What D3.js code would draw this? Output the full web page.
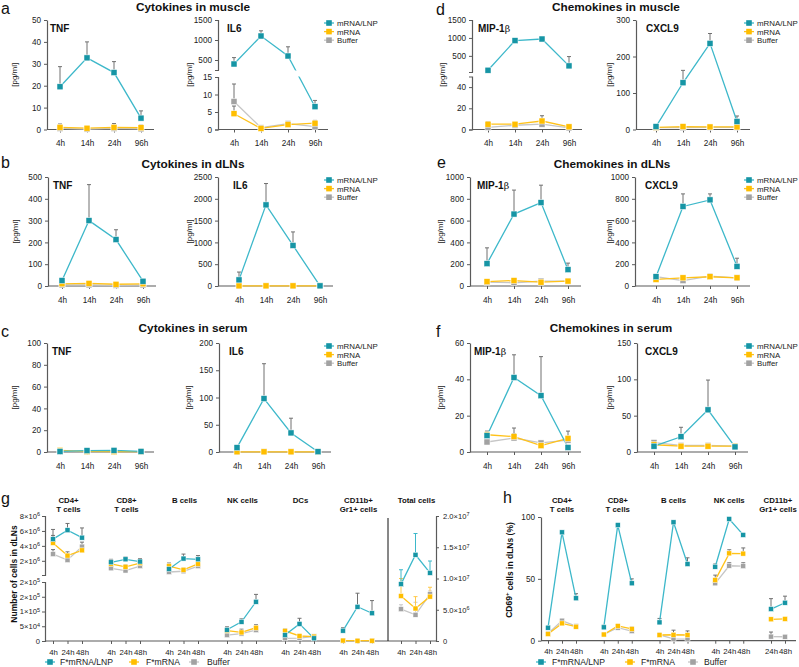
<!DOCTYPE html>
<html><head><meta charset="utf-8">
<script src="https://cdn.jsdelivr.net/npm/d3@7"></script>
<style>body{margin:0;background:#fff}svg{font-family:"Liberation Sans",Arial,sans-serif}</style>
</head><body><svg id="c" width="799" height="667"></svg>
<script>
// ---------------- DATA ----------------
const times = ["4h","14h","24h","96h"];
const seriesNames = ["mRNA/LNP","mRNA","Buffer"];

// a: cytokines in muscle
const aTnfLnp=[19.5,32.7,26.0,5.2], aTnfLnpErr=[28.7,40.0,31.0,8.5];
const aTnfMrna=[1.0,0.6,1.0,0.8], aTnfMrnaErr=[2.5,1.0,2.7,2.0];
const aTnfBuf=[0.5,0.2,0.5,0.3], aTnfBufErr=[1.5,0.5,1.0,1.0];
const aIl6Lnp=[400,1100,600,6.5], aIl6LnpErr=[560,1230,830,8.3];
const aIl6Mrna=[4.5,0.3,1.4,1.8], aIl6MrnaErr=[6.7,0.5,1.6,2.6];
const aIl6Buf=[8.0,0.5,1.7,0.8], aIl6BufErr=[13.0,0.8,2.0,1.3];
// d: chemokines in muscle
const dMipLnp=[100,925,970,220], dMipLnpErr=[110,940,985,480];
const dMipMrna=[5,5,8,2.5], dMipMrnaErr=[7.5,5.5,13,3];
const dMipBuf=[2,4,5,1.5], dMipBufErr=[3,4.5,6,2];
const dCxLnp=[8,128,236,22], dCxLnpErr=[10,162,263,37];
const dCxMrna=[6,8,7,7], dCxMrnaErr=[7,9,8,8];
const dCxBuf=[5,5,6,6], dCxBufErr=[6,6,7,7];
// b: cytokines in dLNs
const bTnfLnp=[25,300,213,22], bTnfLnpErr=[30,465,258,27];
const bTnfMrna=[10,12,8,10], bTnfMrnaErr=[12,15,10,12];
const bTnfBuf=[5,5,3,5], bTnfBufErr=[6,6,4,6];
const bIl6Lnp=[140,1860,930,3], bIl6LnpErr=[320,2350,1240,8];
const bIl6Mrna=[3,3,3,3], bIl6MrnaErr=[4,4,4,4];
const bIl6Buf=[2,2,2,2], bIl6BufErr=[3,3,3,3];
// e: chemokines in dLNs
const eMipLnp=[205,660,765,150], eMipLnpErr=[350,880,925,210];
const eMipMrna=[40,50,35,45], eMipMrnaErr=[45,55,40,50];
const eMipBuf=[35,30,45,45], eMipBufErr=[40,35,50,50];
const eCxLnp=[85,730,790,180], eCxLnpErr=[95,845,845,255];
const eCxMrna=[60,75,85,75], eCxMrnaErr=[70,90,95,85];
const eCxBuf=[85,50,90,75], eCxBufErr=[95,95,100,85];
// c: cytokines in serum
const cTnfLnp=[0.5,1.3,1.5,0.5], cTnfLnpErr=[0.8,1.8,2.0,0.8];
const cTnfMrna=[1.5,0.5,0.3,0.3], cTnfMrnaErr=[2.0,0.8,0.5,0.5];
const cTnfBuf=[0.5,0.3,0.3,0.3], cTnfBufErr=[0.8,0.5,0.5,0.5];
const cIl6Lnp=[8,98,35,0.5], cIl6LnpErr=[12,162,62,1];
const cIl6Mrna=[0.3,0.3,0.3,0.3], cIl6MrnaErr=[0.5,0.5,0.5,0.5];
const cIl6Buf=[0.3,0.3,0.3,0.3], cIl6BufErr=[0.5,0.5,0.5,0.5];
// f: chemokines in serum
const fMipLnp=[9,41,31,2.5], fMipLnpErr=[11,53.5,52.5,3];
const fMipMrna=[9.5,8.5,3.5,7.5], fMipMrnaErr=[11.5,10,4,11.5];
const fMipBuf=[5.5,7.7,5,6.5], fMipBufErr=[6.5,13.2,5.5,8];
const fCxLnp=[8,21,58,7], fCxLnpErr=[9,34,99,11];
const fCxMrna=[10,8,8,8], fCxMrnaErr=[12,10,10,10];
const fCxBuf=[13,9,9,8], fCxBufErr=[15,11,11,10];

// g: number of cells in dLNs
const gGroups=["CD4+|T cells","CD8+|T cells","B cells","NK cells","DCs","CD11b+|Gr1+ cells","Total cells"];
const gTimes=["4h","24h","48h"];
const gSeriesNames=["F*mRNA/LNP","F*mRNA","Buffer"];
const gLnp=[[4.9e6,6.1e6,5.1e6],[1.8e6,2.2e6,1.9e6],[0.9e6,2.3e6,2.2e6],[3.8e4,6.5e4,1.33e5],[2.0e4,5.8e4,0.9e4],[3.5e4,1.16e5,9.4e4],[9.1e6,13.8e6,10.9e6]];
const gLnpErr=[[6.2e6,7.0e6,6.4e6],[2.2e6,2.5e6,2.3e6],[1.2e6,2.9e6,2.7e6],[4.8e4,7.5e4,1.58e5],[2.8e4,7.7e4,1.2e4],[4.5e4,1.62e5,1.37e5],[11.4e6,17.2e6,12.8e6]];
const gMrna=[[4.4e6,2.7e6,3.4e6],[1.6e6,1.2e6,1.7e6],[1.3e6,0.8e6,1.6e6],[3.5e4,2.9e4,4.5e4],[3.4e4,1.7e4,1.5e4],[1.5e3,1e3,1e3],[7.2e6,5.2e6,7.1e6]];
const gMrnaErr=[[5.4e6,3.2e6,3.6e6],[2.0e6,1.5e6,1.9e6],[1.7e6,1.0e6,1.8e6],[4.2e4,4.0e4,5.5e4],[4.1e4,2.0e4,1.8e4],[2e3,1.5e3,1.5e3],[10.0e6,7.1e6,8.6e6]];
const gBuf=[[2.9e6,2.1e6,3.9e6],[1.0e6,0.7e6,1.3e6],[0.5e6,0.6e6,1.3e6],[2.0e4,2.5e4,3.7e4],[0.9e4,1.0e4,1.6e4],[1e3,1e3,1e3],[5.1e6,4.2e6,7.5e6]];
const gBufErr=[[3.5e6,2.5e6,4.5e6],[1.3e6,1.0e6,1.6e6],[0.8e6,1.0e6,1.5e6],[2.6e4,3.0e4,4.2e4],[1.2e4,1.3e4,2.0e4],[1.5e3,1.5e3,1.5e3],[5.8e6,6.2e6,8.0e6]];
const gUpperTicks=[2e6,4e6,6e6,8e6], gUpperLabels=["2×10^6","4×10^6","6×10^6","8×10^6"];
const gLowerTicks=[0,5e4,1e5,1.5e5,2e5], gLowerLabels=["0","5×10^4","1×10^5","2×10^5","2×10^5"];
const gRightTicks=[0,5e6,1e7,1.5e7,2e7], gRightLabels=["0","5.0×10^6","1.0×10^7","1.5×10^7","2.0×10^7"];

// h: CD69+ cells in dLNs (%)
const hGroups=["CD4+|T cells","CD8+|T cells","B cells","NK cells","CD11b+|Gr1+ cells"];
const hTimes=[["4h","24h","48h"],["4h","24h","48h"],["4h","24h","48h"],["4h","24h","48h"],["24h","48h"]];
const hLnp=[[10.5,87.6,34.3],[10.8,93.5,46.4],[14.8,95.7,62],[59.8,98.4,85.5],[25.6,30.7]];
const hLnpErr=[[12,88.5,38],[12.5,94,50],[18,96.5,67],[62,99,86.5],[34,36]];
const hMrna=[[5.4,14,11.3],[5,11.9,9.5],[4.6,4.8,4.6],[49,70.6,70.4],[17.3,17.6]];
const hMrnaErr=[[6.5,15,12],[6,13,11],[5.5,8.5,7.9],[53,73.5,75],[18,18.5]];
const hBuf=[[5.8,16.2,11.8],[5,10.5,7.8],[4.8,1.5,1.2],[46.4,60.6,60.3],[3.3,3.2]];
const hBufErr=[[6.5,17,12.5],[6,11.5,8.5],[5.5,2,1.8],[48,63,63],[7,4]];
const hTicks=[0,50,100];

// ---------------- STYLE ----------------
const svg=d3.select("#c");
const COL=[{m:"#1695a5",l:"#3db8ca",e:"#3db8ca"},{m:"#ffbe00",l:"#ffc21a",e:"#ffc94a"},{m:"#a2a2a2",l:"#c6c6c6",e:"#c8c8c8"}];
const ERR="#707070", AX="#5a5a5a", TXT="#222";

function styleAxis(a,fs){
  a.selectAll(".domain").attr("stroke",AX).attr("stroke-width",1.2);
  a.selectAll(".tick line").attr("stroke",AX).attr("stroke-width",1);
  a.selectAll("text").attr("fill",TXT).attr("font-size",fs||8.2).attr("font-family","Liberation Sans, Arial, sans-serif");
}
function sci(sel,label){
  sel.text(null);
  const p=label.split("^");
  sel.append("tspan").text(p[0]);
  if(p[1]) sel.append("tspan").attr("dy","-0.45em").attr("font-size","0.72em").text(p[1]);
}
function drawSeries(g,pts,ci,size,errColor){
  const c=COL[ci];
  pts.forEach(p=>{
    if(p.e==null||p.e>=p.y) return;
    g.append("line").attr("x1",p.x).attr("x2",p.x).attr("y1",p.y).attr("y2",p.e).attr("stroke",errColor||ERR).attr("stroke-width",1);
    g.append("line").attr("x1",p.x-2).attr("x2",p.x+2).attr("y1",p.e).attr("y2",p.e).attr("stroke",errColor||ERR).attr("stroke-width",1);
  });
  g.append("path").datum(pts).attr("d",d3.line().x(d=>d.x).y(d=>d.y)).attr("fill","none").attr("stroke",c.l).attr("stroke-width",1.3);
}
function drawMarkers(g,pts,ci,size){
  g.selectAll(null).data(pts).join("rect").attr("x",d=>d.x-size/2).attr("y",d=>d.y-size/2)
   .attr("width",size).attr("height",size).attr("fill",COL[ci].m).attr("stroke","#fff").attr("stroke-width",0.5);
}
function legendItem(x,y,ci,label,fs,off){
  svg.append("line").attr("x1",x-5).attr("x2",x+5).attr("y1",y).attr("y2",y).attr("stroke",COL[ci].l).attr("stroke-width",1.3);
  svg.append("rect").attr("x",x-2.8).attr("y",y-2.8).attr("width",5.6).attr("height",5.6).attr("fill",COL[ci].m);
  svg.append("text").attr("x",x+(off||9)).attr("y",y+3).attr("font-size",fs||9).attr("fill",TXT).text(label);
}

// ---------------- a-f line charts ----------------
const STEP=27;
function chart(o){
  const g=svg.append("g");
  const x=d3.scalePoint().domain(times).range([o.first,o.first+3*STEP]);
  let yf, axes=[];
  if(o.broken){
    const b=o.broken;
    const yt=d3.scaleLinear().domain(b.topDomain).range([b.topEnd,o.top]);
    const yb=d3.scaleLinear().domain(b.botDomain).range([o.bot,b.botStart]);
    yf=v=>v>=b.split?yt(v):yb(v);
    axes=[[yt,b.topTicks],[yb,b.botTicks]];
  } else {
    const y=d3.scaleLinear().domain(o.domain).range([o.bot,o.top]);
    yf=y; axes=[[y,o.ticks]];
  }
  axes.forEach(([s,t])=>{
    const a=g.append("g").attr("transform",`translate(${o.ax},0)`)
      .call(d3.axisLeft(s).tickValues(t).tickSize(3).tickSizeOuter(o.broken?3:0).tickPadding(3).tickFormat(d3.format("d")));
    styleAxis(a);
  });
  const endX=o.first+3*STEP+13;
  const xa=g.append("g").attr("transform",`translate(0,${o.bot})`).call(d3.axisBottom(x).tickSize(3).tickPadding(8));
  xa.select(".domain").remove();
  styleAxis(xa);
  g.append("line").attr("x1",o.ax).attr("x2",endX).attr("y1",o.bot).attr("y2",o.bot).attr("stroke",AX).attr("stroke-width",1.2);
  // labels
  const lab=g.append("text").attr("x",o.labX).attr("y",o.top+12).attr("font-size",10).attr("font-weight","bold").attr("fill","#111");
  const lp=o.label.split("β");
  lab.append("tspan").text(lp[0]);
  if(lp.length>1) lab.append("tspan").attr("font-weight","normal").attr("font-family","DejaVu Serif, serif").attr("font-size",9.5).text("β");
  g.append("text").attr("transform",`translate(${o.ylabX},${(o.top+o.bot)/2}) rotate(-90)`).attr("text-anchor","middle")
    .attr("font-size",8).attr("fill",TXT).text("[pg/ml]");
  // series
  const sets=[[o.buf,o.bufE,2],[o.mrna,o.mrnaE,1],[o.lnp,o.lnpE,0]];
  const allPts=sets.map(([v,e,ci])=>({ci,pts:times.map((t,i)=>({x:x(t),y:yf(v[i]),e:yf(e[i])}))}));
  allPts.forEach(s=>drawSeries(g,s.pts,s.ci,6));
  if(o.broken){
    g.append("rect").attr("x",o.ax+1).attr("y",o.broken.topEnd+0.5).attr("width",endX-o.ax).attr("height",o.broken.botStart-o.broken.topEnd-1).attr("fill","#fff");
  }
  allPts.forEach(s=>drawMarkers(g,s.pts,s.ci,6));
  if(o.legendX){
    seriesNames.forEach((n,i)=>legendItem(o.legendX,o.top+3+i*8.6,i,n,7.9,8));
  }
}
const R=[{top:20,bot:129.5},{top:177,bot:286},{top:343,bot:452}];
function lin(n,step){return d3.range(0,n+step/2,step);}

chart({...R[0],ax:47,first:60,domain:[0,50],ticks:lin(50,10),label:"TNF",labX:50,ylabX:17,
  lnp:aTnfLnp,lnpE:aTnfLnpErr,mrna:aTnfMrna,mrnaE:aTnfMrnaErr,buf:aTnfBuf,bufE:aTnfBufErr});
chart({...R[0],ax:218,first:234,broken:{topDomain:[250,1500],topEnd:70,botDomain:[0,15],botStart:77,split:100,topTicks:[500,1000,1500],botTicks:[0,5,10,15]},
  label:"IL6",labX:227,ylabX:192,legendX:329,
  lnp:aIl6Lnp,lnpE:aIl6LnpErr,mrna:aIl6Mrna,mrnaE:aIl6MrnaErr,buf:aIl6Buf,bufE:aIl6BufErr});
chart({...R[0],ax:472,first:488,broken:{topDomain:[50,1500],topEnd:72,botDomain:[0,50],botStart:76.5,split:60,topTicks:[500,1000,1500],botTicks:[0,20,40]},
  label:"MIP-1β",labX:478,ylabX:445,
  lnp:dMipLnp,lnpE:dMipLnpErr,mrna:dMipMrna,mrnaE:dMipMrnaErr,buf:dMipBuf,bufE:dMipBufErr});
chart({...R[0],ax:636,first:656,domain:[0,300],ticks:lin(300,100),label:"CXCL9",labX:646,ylabX:612,legendX:749,
  lnp:dCxLnp,lnpE:dCxLnpErr,mrna:dCxMrna,mrnaE:dCxMrnaErr,buf:dCxBuf,bufE:dCxBufErr});

chart({...R[1],ax:48,first:62,domain:[0,500],ticks:lin(500,100),label:"TNF",labX:53,ylabX:18,
  lnp:bTnfLnp,lnpE:bTnfLnpErr,mrna:bTnfMrna,mrnaE:bTnfMrnaErr,buf:bTnfBuf,bufE:bTnfBufErr});
chart({...R[1],ax:218,first:239,domain:[0,2500],ticks:lin(2500,500),label:"IL6",labX:233,ylabX:192,legendX:329,
  lnp:bIl6Lnp,lnpE:bIl6LnpErr,mrna:bIl6Mrna,mrnaE:bIl6MrnaErr,buf:bIl6Buf,bufE:bIl6BufErr});
chart({...R[1],ax:470,first:487,domain:[0,1000],ticks:lin(1000,200),label:"MIP-1β",labX:477,ylabX:443,
  lnp:eMipLnp,lnpE:eMipLnpErr,mrna:eMipMrna,mrnaE:eMipMrnaErr,buf:eMipBuf,bufE:eMipBufErr});
chart({...R[1],ax:635,first:656,domain:[0,1000],ticks:lin(1000,200),label:"CXCL9",labX:645,ylabX:612,legendX:749,
  lnp:eCxLnp,lnpE:eCxLnpErr,mrna:eCxMrna,mrnaE:eCxMrnaErr,buf:eCxBuf,bufE:eCxBufErr});

chart({...R[2],ax:47,first:60,domain:[0,100],ticks:lin(100,20),label:"TNF",labX:52,ylabX:17,
  lnp:cTnfLnp,lnpE:cTnfLnpErr,mrna:cTnfMrna,mrnaE:cTnfMrnaErr,buf:cTnfBuf,bufE:cTnfBufErr});
chart({...R[2],ax:219,first:237,domain:[0,200],ticks:lin(200,50),label:"IL6",labX:229,ylabX:191,legendX:329,
  lnp:cIl6Lnp,lnpE:cIl6LnpErr,mrna:cIl6Mrna,mrnaE:cIl6MrnaErr,buf:cIl6Buf,bufE:cIl6BufErr});
chart({...R[2],ax:470,first:487,domain:[0,60],ticks:lin(60,20),label:"MIP-1β",labX:474,ylabX:443,
  lnp:fMipLnp,lnpE:fMipLnpErr,mrna:fMipMrna,mrnaE:fMipMrnaErr,buf:fMipBuf,bufE:fMipBufErr});
chart({...R[2],ax:637,first:654,domain:[0,150],ticks:lin(150,50),label:"CXCL9",labX:645,ylabX:612,legendX:749,
  lnp:fCxLnp,lnpE:fCxLnpErr,mrna:fCxMrna,mrnaE:fCxMrnaErr,buf:fCxBuf,bufE:fCxBufErr});

// titles & letters
function T(x,y,s,fs,w,anchor){svg.append("text").attr("x",x).attr("y",y).attr("font-size",fs).attr("font-weight",w||"normal")
  .attr("text-anchor",anchor||"start").attr("fill","#111").text(s);}
T(193,11,"Cytokines in muscle",11.8,"bold","middle");
T(616,11,"Chemokines in muscle",11.8,"bold","middle");
T(193,168,"Cytokines in dLNs",11.8,"bold","middle");
T(612,168,"Chemokines in dLNs",11.8,"bold","middle");
T(193,332,"Cytokines in serum",11.8,"bold","middle");
T(611,332,"Chemokines in serum",11.8,"bold","middle");
T(1,14,"a",16);T(436,15,"d",16);
T(1,168,"b",16);T(437,168,"e",16);
T(1,337,"c",16);T(436,337,"f",16);
T(1,504,"g",16);T(503,503,"h",16);

// ---------------- g ----------------
(function(){
  const g=svg.append("g");
  const AXL=45, AXR=436, BOT=641;
  const gx=d3.scalePoint().domain(gGroups).range([53,401]);
  const tOff=d3.scalePoint().domain(gTimes).range([0,29]);
  const yUp=d3.scaleLinear().domain([0.1e6,8e6]).range([575,516]);
  const yLo=d3.scaleLinear().domain([0,2e5]).range([BOT,582]);
  const yR=d3.scaleLinear().domain([0,2e7]).range([BOT,516]);
  const yL=v=>v>2.5e5?yUp(v):yLo(v);
  const a1=g.append("g").attr("transform",`translate(${AXL},0)`).call(d3.axisLeft(yUp).tickValues(gUpperTicks).tickSize(3).tickSizeOuter(3).tickPadding(2));
  a1.selectAll(".tick text").each(function(d,i){sci(d3.select(this),gUpperLabels[i]);});
  styleAxis(a1,7.6);
  const a2=g.append("g").attr("transform",`translate(${AXL},0)`).call(d3.axisLeft(yLo).tickValues(gLowerTicks).tickSize(3).tickSizeOuter(3).tickPadding(2));
  a2.selectAll(".tick text").each(function(d,i){sci(d3.select(this),gLowerLabels[i]);});
  styleAxis(a2,7.6);
  const a3=g.append("g").attr("transform",`translate(${AXR},0)`).call(d3.axisRight(yR).tickValues(gRightTicks).tickSize(3).tickSizeOuter(0).tickPadding(4));
  a3.selectAll(".tick text").each(function(d,i){sci(d3.select(this),gRightLabels[i]);});
  styleAxis(a3,7.6);
  g.append("line").attr("x1",AXL).attr("x2",AXR).attr("y1",BOT).attr("y2",BOT).attr("stroke",AX).attr("stroke-width",1.2);
  g.append("line").attr("x1",388).attr("x2",388).attr("y1",518).attr("y2",BOT).attr("stroke","#111").attr("stroke-width",1);
  gGroups.forEach((grp,gi)=>{
    const xs=gTimes.map(t=>gx(grp)+tOff(t));
    const xa=g.append("g").attr("transform",`translate(0,${BOT})`)
      .call(d3.axisBottom(d3.scaleOrdinal().domain(gTimes).range(xs)).tickSize(3).tickPadding(5));
    xa.select(".domain").remove(); styleAxis(xa,7.8);
    const lines=grp.split("|");
    lines.forEach((ln,k)=>g.append("text").attr("x",gx(grp)+15.5).attr("y",503+k*8.5).attr("text-anchor","middle")
      .attr("font-size",7.8).attr("font-weight","bold").attr("fill","#111").text(ln));
    const yf=gi===6?yR:yL;
    const sets=[[gBuf,gBufErr,2],[gMrna,gMrnaErr,1],[gLnp,gLnpErr,0]];
    const ps=sets.map(([v,e,ci])=>({ci,pts:gTimes.map((t,i)=>({x:xs[i],y:yf(v[gi][i]),e:yf(e[gi][i])}))}));
    ps.forEach(s=>drawSeries(g,s.pts,s.ci,5,gi===6?COL[s.ci].e:ERR));
    ps.forEach(s=>drawMarkers(g,s.pts,s.ci,5));
  });
  g.append("text").attr("transform","translate(17,574) rotate(-90)").attr("text-anchor","middle").attr("font-size",8.5)
    .attr("font-weight","bold").attr("fill","#111").text("Number of cells in dLNs");
  legendItem(50,662,0,gSeriesNames[0],8.6,10);
  legendItem(134,662,1,gSeriesNames[1],8.6,12);
  legendItem(194,662,2,gSeriesNames[2],8.6,13);
})();

// ---------------- h ----------------
(function(){
  const g=svg.append("g");
  const AXL=541, BOT=640.7;
  const gx=d3.scalePoint().domain(hGroups).range([548,771]);
  const y=d3.scaleLinear().domain([0,100]).range([BOT,517]);
  const a=g.append("g").attr("transform",`translate(${AXL},0)`).call(d3.axisLeft(y).tickValues(hTicks).tickSize(3).tickSizeOuter(0).tickPadding(3));
  styleAxis(a,8.2);
  g.append("line").attr("x1",AXL).attr("x2",796).attr("y1",BOT).attr("y2",BOT).attr("stroke",AX).attr("stroke-width",1.2);
  hGroups.forEach((grp,gi)=>{
    const tl=hTimes[gi];
    const xs=tl.map((t,i)=>gx(grp)+i*14);
    const xa=g.append("g").attr("transform",`translate(0,${BOT})`)
      .call(d3.axisBottom(d3.scaleOrdinal().domain(tl).range(xs)).tickSize(3).tickPadding(5));
    xa.select(".domain").remove(); styleAxis(xa,7.8);
    const cx=(xs[0]+xs[xs.length-1])/2;
    grp.split("|").forEach((ln,k)=>g.append("text").attr("x",cx).attr("y",503+k*8.5).attr("text-anchor","middle")
      .attr("font-size",7.8).attr("font-weight","bold").attr("fill","#111").text(ln));
    const sets=[[hBuf,hBufErr,2],[hMrna,hMrnaErr,1],[hLnp,hLnpErr,0]];
    const ps=sets.map(([v,e,ci])=>({ci,pts:tl.map((t,i)=>({x:xs[i],y:y(v[gi][i]),e:y(e[gi][i])}))}));
    ps.forEach(s=>drawSeries(g,s.pts,s.ci,5,ERR));
    ps.forEach(s=>drawMarkers(g,s.pts,s.ci,5));
  });
  const yl=g.append("text").attr("transform","translate(512,570) rotate(-90)").attr("text-anchor","middle").attr("font-size",8.5)
    .attr("font-weight","bold").attr("fill","#111");
  yl.append("tspan").text("CD69");
  yl.append("tspan").attr("dy","-0.45em").attr("font-size","0.7em").text("+");
  yl.append("tspan").attr("dy","0.45em").text(" cells in dLNs (%)");
  legendItem(541,662,0,gSeriesNames[0],8.6,11);
  legendItem(630,662,1,gSeriesNames[1],8.6,11);
  legendItem(693,662,2,gSeriesNames[2],8.6,11);
})();
</script></body></html>
